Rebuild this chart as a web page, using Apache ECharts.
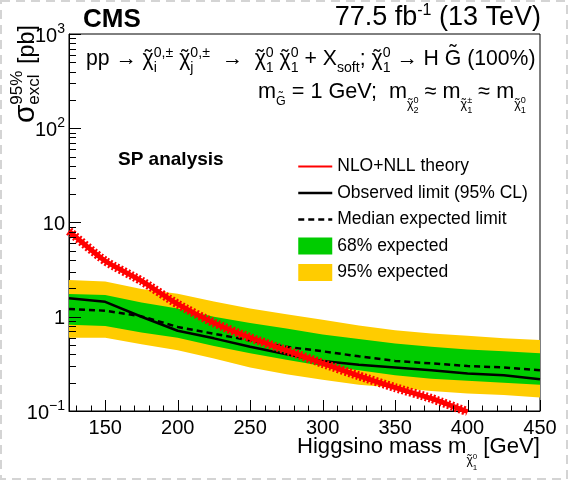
<!DOCTYPE html>
<html><head><meta charset="utf-8">
<script src="https://cdn.jsdelivr.net/npm/echarts@6/dist/echarts.min.js"></script>
<style>html,body{margin:0;padding:0;background:#fff}#wrap{position:relative;width:568px;height:480px}#c{width:568px;height:480px}#ov{position:absolute;left:0;top:0;pointer-events:none}</style>
</head><body><div id="wrap"><div id="c"></div><canvas id="ov" width="568" height="480"></canvas></div>
<script>
// ---------------- data ----------------
const masses = [125,150,175,200,225,250,275,300,325,350,375,400,425,450];
const theoryMasses = [125,150,175,200,225,250,275,300,325,350,375,400];
const theoryXsec = [8.1,3.9,2.4,1.36,0.86,0.60,0.44,0.32,0.236,0.177,0.136,0.098];
const observed  = [1.57,1.44,1.00,0.71,0.59,0.48,0.40,0.34,0.31,0.29,0.27,0.25,0.24,0.217];
const expected  = [1.21,1.16,1.01,0.78,0.66,0.56,0.48,0.43,0.38,0.34,0.32,0.30,0.29,0.27];
const exp68Up   = [1.74,1.70,1.42,1.22,1.00,0.86,0.75,0.65,0.58,0.52,0.48,0.45,0.43,0.41];
const exp68Down = [0.82,0.80,0.68,0.60,0.49,0.41,0.35,0.30,0.27,0.24,0.22,0.21,0.20,0.19];
const exp95Up   = [2.45,2.37,1.97,1.75,1.45,1.22,1.06,0.93,0.81,0.72,0.665,0.63,0.59,0.565];
const exp95Down = [0.60,0.60,0.51,0.44,0.36,0.29,0.245,0.215,0.19,0.177,0.163,0.153,0.148,0.139];
const xMajorTicks = [150,200,250,300,350,400,450];
const xMinorTicks = [130,140,160,170,180,190,210,220,230,240,260,270,280,290,310,320,330,340,360,370,380,390,410,420,430,440];
const yMajorTicks = [0.1,1,10,100,1000];
const yTickLabels = ['{b|10}{s|\u22121}','{b|1}','{b|10}','{b|10}{s|2}','{b|10}{s|3}'];
const yMinorTicks = [];
[0.1,1,10,100].forEach(d=>{for(let k=2;k<=9;k++) yMinorTicks.push(+(d*k).toPrecision(3));});
const legendNames = ['NLO+NLL theory','Observed limit (95% CL)','Median expected limit','68% expected','95% expected'];

// ---------------- helpers ----------------
const FF = '"Liberation Sans", Arial, Helvetica, sans-serif';
const mctx = document.createElement('canvas').getContext('2d');
function tw(t,s,b){ mctx.font=(b?'bold ':'')+s+'px '+FF; return mctx.measureText(t).width; }
function layout(pieces, k){
  let x=0, pend=0, lastX=0, lastW=0; const els=[];
  pieces.forEach(p=>{
    const s=(p.s||18)*k, dy=(p.dy||0)*k;
    if(p.tilde){
      const t='\u02DC', w=tw(t,s,false);
      els.push({t, x:lastX+(lastW-w)/2, y:dy, s, b:false});
      return;
    }
    const w=tw(p.t,s,p.b);
    els.push({t:p.t, x, y:dy, s, b:p.b});
    lastX=x; lastW=w;
    if(p.stack){ pend=Math.max(pend,w); return; }
    x += Math.max(w,pend); pend=0;
  });
  return {els, width:x};
}
function toGraphic(lay, x0, base){
  return lay.els.map(e=>({type:'text', x:x0+e.x, y:base+e.y-0.3465*e.s, silent:true,
    style:{text:e.t, fontSize:e.s, fontFamily:FF, fontWeight:e.b?'bold':'normal', fill:'#000', align:'left', verticalAlign:'middle'}}));
}
function fitted(pieces, x0, x1, base){
  const w=layout(pieces,1).width; const k=(x1-x0)/w;
  return toGraphic(layout(pieces,k), x0, base);
}
function chi(sup, sub, S, s, dup, ddown, dy){
  dy=dy||0;
  return [{t:'\u03C7', s:S, dy:dy},{tilde:true, s:S, dy:dy},{t:sup, s:s, dy:dy+dup, stack:true},{t:sub, s:s, dy:dy+ddown}];
}

// ---------------- texts ----------------
const g = [];
g.push({type:'rect', shape:{x:1,y:1,width:566,height:478}, silent:true, z:-10,
  style:{fill:'none', stroke:'#d4d4d4', lineWidth:2, lineDash:[9,6]}});
g.push(...toGraphic(layout([{t:'CMS', s:26, b:true}],1), 83, 29));
(function(){
  const p=[{t:'77.5 fb', s:27},{t:'-1', s:16, dy:-11},{t:' (13 TeV)', s:27}];
  const L=layout(p,1); g.push(...toGraphic(L, 541-L.width, 27));
})();
const proc = [{t:'pp \u2192 '}, ...chi('0,\u00B1','i',18,12,-8,5), {t:' '}, ...chi('0,\u00B1','j',18,12,-8,5),
  {t:'  \u2192  '}, ...chi('0','1',18,12,-8,5), {t:' '}, ...chi('0','1',18,12,-8,5), {t:' + X'}, {t:'soft', s:12, dy:5},
  {t:'; '}, ...chi('0','1',18,12,-8,5), {t:' \u2192 H '}, {t:'G'}, {tilde:true, s:18, dy:-5}, {t:' (100%)'}];
g.push(...fitted(proc, 86, 536, 67));
const massLine = [{t:'m', s:19}, {t:'G', s:11, dy:5}, {tilde:true, s:11, dy:2}, {t:' = 1 GeV;  m', s:19},
  ...chi('0','2',11,8,-5,4,8), {t:' \u2248 m', s:19}, ...chi('\u00B1','1',11,8,-5,4,8), {t:' \u2248 m', s:19}, ...chi('0','1',11,8,-5,4,8)];
g.push(...fitted(massLine, 258, 526, 100));
g.push(...toGraphic(layout([{t:'SP analysis', s:19, b:true}],1), 118, 166));
const xTitle = [{t:'Higgsino mass m', s:22}, ...chi('0','1',12,8,-5,5,10), {t:' [GeV]', s:22}];
g.push(...fitted(xTitle, 297, 540, 455));
const yTitle = [{t:'\u03C3', s:28}, {t:'95%', s:16, dy:-12, stack:true}, {t:'excl', s:16, dy:4}, {t:' [pb]', s:22}];
(function(){
  const w=layout(yTitle,1).width; const k=98/w; const L=layout(yTitle,k);
  g.push({type:'group', x:36, y:123, rotation:Math.PI/2, children: toGraphic(L,0,0)});
})();

// ---------------- chart ----------------
function band(name, up, down, color){
  return {type:'custom', name, xAxisIndex:0, yAxisIndex:0, itemStyle:{color}, clip:true, silent:true,
    data: masses.map((m,i)=>[m, down[i], up[i]]),
    encode:{x:0, y:[1,2]},
    renderItem:(params, api)=>{
      if(params.dataIndex!==0) return null;
      const pts=[];
      for(let i=0;i<masses.length;i++) pts.push(api.coord([masses[i], up[i]]));
      for(let i=masses.length-1;i>=0;i--) pts.push(api.coord([masses[i], down[i]]));
      return {type:'polygon', shape:{points:pts}, style:{fill:color}};
    }};
}
const GRID = {left:69, right:28, top:34, bottom:69};
const axisFont = {fontFamily:FF, color:'#000'};
const chart = echarts.init(document.getElementById('c'), null, {renderer:'canvas'});
chart.setOption({
  animation:false,
  grid:{...GRID, show:true, borderColor:'#000', borderWidth:1},
  xAxis:{type:'value', min:125, max:450,
      axisLine:{show:true, onZero:false, lineStyle:{color:'#000', width:1}},
      axisTick:{show:false},
      axisLabel:{show:true, showMinLabel:false, fontSize:20, margin:7, ...axisFont,
        formatter:(v)=> xMajorTicks.indexOf(v)>=0 ? String(v) : ''},
      splitLine:{show:false}},
  yAxis:{type:'log', logBase:10, min:0.1, max:1000,
      axisLine:{show:true, onZero:false, lineStyle:{color:'#000', width:1}},
      axisTick:{show:false},
      axisLabel:{show:true, margin:4, ...axisFont,
        formatter:(v)=>{ const i=yMajorTicks.findIndex(t=>Math.abs(Math.log10(t)-Math.log10(v))<1e-6); return i>=0?yTickLabels[i]:''; },
        rich:{b:{fontSize:20, lineHeight:24, verticalAlign:'bottom', fontFamily:FF, color:'#000'},
              s:{fontSize:14, lineHeight:14, verticalAlign:'top', fontFamily:FF, color:'#000'}}},
      splitLine:{show:false}},
  legend:{orient:'vertical', left:297, top:157.5, padding:0, itemWidth:34, itemHeight:17, itemGap:8.5,
    textStyle:{fontSize:17.5, fontFamily:FF, color:'#000'},
    data:[
      {name:legendNames[0], itemStyle:{opacity:0}, lineStyle:{width:2, color:'#f00', type:'solid'}},
      {name:legendNames[1], itemStyle:{opacity:0}, lineStyle:{width:2.5, color:'#000', type:'solid'}},
      {name:legendNames[2], itemStyle:{opacity:0}, lineStyle:{width:2.5, color:'#000', type:[6,4]}},
      {name:legendNames[3], icon:'rect', itemStyle:{color:'#00CC00'}},
      {name:legendNames[4], icon:'rect', itemStyle:{color:'#FFCC00'}}
    ]},
  graphic: g,
  series:[
    band(legendNames[4], exp95Up, exp95Down, '#FFCC00'),
    band(legendNames[3], exp68Up, exp68Down, '#00CC00'),
    {type:'line', name:legendNames[2], data:masses.map((m,i)=>[m,expected[i]]), symbol:'none',
      lineStyle:{color:'#000', width:2.5, type:[6,4]}, itemStyle:{color:'#000'}},
    {type:'line', name:legendNames[1], data:masses.map((m,i)=>[m,observed[i]]), symbol:'none',
      lineStyle:{color:'#000', width:2.5}, itemStyle:{color:'#000'}},
    {type:'line', name:legendNames[0], data:theoryMasses.map((m,i)=>[m,theoryXsec[i]]), symbol:'none', smooth:0.2,
      lineStyle:{color:'#f00', width:5}, itemStyle:{color:'#f00'}, clip:true},
    {type:'line', name:legendNames[0], data:theoryMasses.map((m,i)=>[m,theoryXsec[i]]), symbol:'none', smooth:0.2,
      lineStyle:{color:'#f00', width:9, type:[2,2]}, itemStyle:{color:'#f00'}, clip:true}
  ]
});

// ---------------- inward axis ticks (ROOT style) ----------------
// positions come from the chart's own axis scales (convertToPixel); fallback mirrors the same scale math
function toPx(x, y){
  let p = null;
  try { p = chart.convertToPixel({gridIndex:0}, [x, y]); } catch(e) { p = null; }
  if(!p || !isFinite(p[0]) || !isFinite(p[1])){
    const W=568-GRID.left-GRID.right, H=480-GRID.top-GRID.bottom;
    p = [GRID.left + (x-125)/(450-125)*W,
         GRID.top + H - (Math.log10(y)-Math.log10(0.1))/(Math.log10(1000)-Math.log10(0.1))*H];
  }
  return p;
}
const bottomY = Math.round(toPx(300, 0.1)[1]), leftX = Math.round(toPx(125, 1)[0]);
const tickSegs = [];
xMajorTicks.forEach(v=>{const x=Math.round(toPx(v,1)[0])+0.5; tickSegs.push([x,bottomY,x,bottomY-11]);});
xMinorTicks.forEach(v=>{const x=Math.round(toPx(v,1)[0])+0.5; tickSegs.push([x,bottomY,x,bottomY-5.5]);});
yMajorTicks.forEach(v=>{const y=Math.round(toPx(300,v)[1])+0.5; tickSegs.push([leftX,y,leftX+12,y]);});
yMinorTicks.forEach(v=>{const y=Math.round(toPx(300,v)[1])+0.5; tickSegs.push([leftX,y,leftX+7,y]);});
const ov = document.getElementById('ov').getContext('2d');
ov.strokeStyle = '#000'; ov.lineWidth = 1;
ov.beginPath();
tickSegs.forEach(s=>{ ov.moveTo(s[0], s[1]); ov.lineTo(s[2], s[3]); });
ov.stroke();
</script></body></html>
